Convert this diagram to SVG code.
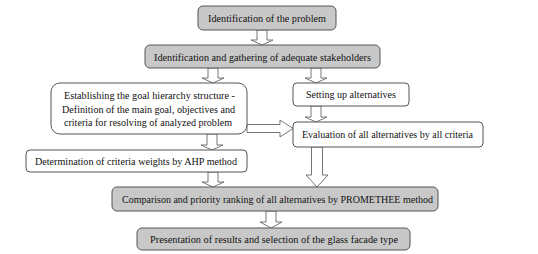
<svg xmlns="http://www.w3.org/2000/svg" width="538" height="254" viewBox="0 0 538 254">
<style>
.g{fill:#c8c8c8;stroke:#555;stroke-width:1}
.w{fill:#fff;stroke:#555;stroke-width:1}
.a{fill:#fff;stroke:#666;stroke-width:0.9}
.t{font-family:'Liberation Serif','DejaVu Serif',serif;font-size:10.5px;fill:#111;text-anchor:middle}
</style>
<rect width="538" height="254" fill="#fff"/>
<g id="connectors">
<polygon class="a" points="257,30 267,30 267,40 273,40 262,45 251,40 257,40"/>
<polygon class="a" points="208,68 218,68 218,78 224,78 213,83 202,78 208,78"/>
<polygon class="a" points="311,68 321,68 321,78 327,78 316,83 305,78 311,78"/>
<polygon class="a" points="207,134 217,134 217,145 223,145 212,150 201,145 207,145"/>
<polygon class="a" points="311,106 321,106 321,117 327,117 316,122 305,117 311,117"/>
<polygon class="a" points="247,124.5 280,124.5 280,120 293,128.5 280,137 280,132.5 247,132.5"/>
<polygon class="a" points="208,172 218,172 218,182 224,182 213,187 202,182 208,182"/>
<polygon class="a" points="311.5,147 322.5,147 322.5,175 328,175 317,187 306,175 311.5,175"/>
<polygon class="a" points="266,211 276,211 276,222 282,222 271,228 260,222 266,222"/>
</g>
<g id="n1"><rect class="g" x="198" y="6" width="138" height="24" rx="5"/><text class="t" font-family="Liberation Serif, serif" x="267" y="22" textLength="118" lengthAdjust="spacingAndGlyphs">Identification of the problem</text></g>
<g id="n2"><rect class="g" x="145" y="45" width="235" height="23" rx="5"/><text class="t" font-family="Liberation Serif, serif" x="262.5" y="60.5" textLength="217" lengthAdjust="spacingAndGlyphs">Identification and gathering of adequate stakeholders</text></g>
<g id="n3"><rect class="w" x="51" y="83" width="196" height="51" rx="9"/>
<text class="t" font-family="Liberation Serif, serif" x="149.5" y="99" textLength="171" lengthAdjust="spacingAndGlyphs">Establishing the goal hierarchy structure -</text>
<text class="t" font-family="Liberation Serif, serif" x="148.5" y="112.5" textLength="173" lengthAdjust="spacingAndGlyphs">Definition of the main goal, objectives and</text>
<text class="t" font-family="Liberation Serif, serif" x="148" y="126" textLength="168" lengthAdjust="spacingAndGlyphs">criteria for resolving of analyzed problem</text></g>
<g id="n4"><rect class="w" x="26" y="150" width="221" height="22" rx="4"/><text class="t" font-family="Liberation Serif, serif" x="136" y="165" textLength="202" lengthAdjust="spacingAndGlyphs">Determination of criteria weights by AHP method</text></g>
<g id="n5"><rect class="w" x="293" y="83" width="116" height="23" rx="4"/><text class="t" font-family="Liberation Serif, serif" x="351" y="98" textLength="90" lengthAdjust="spacingAndGlyphs">Setting up alternatives</text></g>
<g id="n6"><rect class="w" x="293" y="122" width="190" height="25" rx="4"/><text class="t" font-family="Liberation Serif, serif" x="387.5" y="138" textLength="171" lengthAdjust="spacingAndGlyphs">Evaluation of all alternatives by all criteria</text></g>
<g id="n7"><rect class="g" x="112" y="187" width="326" height="24" rx="5"/><text class="t" font-family="Liberation Serif, serif" x="277.5" y="202.5" textLength="311" lengthAdjust="spacingAndGlyphs">Comparison and priority ranking of all alternatives by PROMETHEE method</text></g>
<g id="n8"><rect class="g" x="137" y="228" width="273" height="22" rx="5"/><text class="t" font-family="Liberation Serif, serif" x="274" y="242.5" textLength="248" lengthAdjust="spacingAndGlyphs">Presentation of results and selection of the glass facade type</text></g>
</svg>
